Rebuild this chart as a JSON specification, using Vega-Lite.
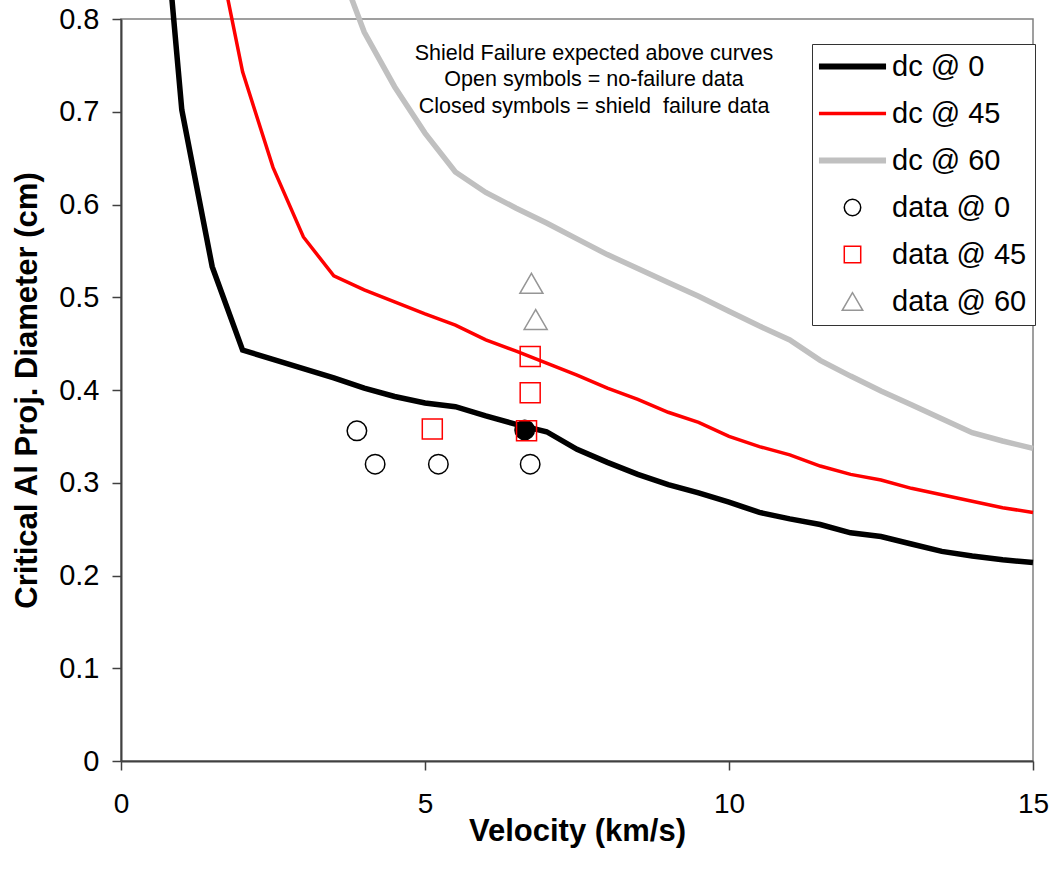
{
  "$schema": "https://vega.github.io/schema/vega-lite/v6.json",
  "width": 912,
  "height": 742,
  "autosize": {"type": "none"},
  "padding": {"left": 121, "top": 19, "right": 27, "bottom": 113},
  "background": "white",
  "config": {
    "view": {"stroke": "#808080", "strokeWidth": 1.5},
    "font": "Liberation Sans",
    "axis": {"grid": false}
  },
  "datasets": {
    "curves": [
      {"series": "dc @ 0", "v": 0.5, "d": 1.07},
      {"series": "dc @ 0", "v": 1, "d": 0.702},
      {"series": "dc @ 0", "v": 1.5, "d": 0.533},
      {"series": "dc @ 0", "v": 2, "d": 0.443},
      {"series": "dc @ 0", "v": 2.5, "d": 0.433},
      {"series": "dc @ 0", "v": 3, "d": 0.423},
      {"series": "dc @ 0", "v": 3.5, "d": 0.413},
      {"series": "dc @ 0", "v": 4, "d": 0.402},
      {"series": "dc @ 0", "v": 4.5, "d": 0.393},
      {"series": "dc @ 0", "v": 5, "d": 0.386},
      {"series": "dc @ 0", "v": 5.5, "d": 0.382},
      {"series": "dc @ 0", "v": 6, "d": 0.372},
      {"series": "dc @ 0", "v": 6.5, "d": 0.363},
      {"series": "dc @ 0", "v": 7, "d": 0.355},
      {"series": "dc @ 0", "v": 7.5, "d": 0.336},
      {"series": "dc @ 0", "v": 8, "d": 0.322},
      {"series": "dc @ 0", "v": 8.5, "d": 0.309},
      {"series": "dc @ 0", "v": 9, "d": 0.298},
      {"series": "dc @ 0", "v": 9.5, "d": 0.289},
      {"series": "dc @ 0", "v": 10, "d": 0.279},
      {"series": "dc @ 0", "v": 10.5, "d": 0.268},
      {"series": "dc @ 0", "v": 11, "d": 0.261},
      {"series": "dc @ 0", "v": 11.5, "d": 0.255},
      {"series": "dc @ 0", "v": 12, "d": 0.246},
      {"series": "dc @ 0", "v": 12.5, "d": 0.242},
      {"series": "dc @ 0", "v": 13, "d": 0.234},
      {"series": "dc @ 0", "v": 13.5, "d": 0.226},
      {"series": "dc @ 0", "v": 14, "d": 0.221},
      {"series": "dc @ 0", "v": 14.5, "d": 0.217},
      {"series": "dc @ 0", "v": 15, "d": 0.214},
      {"series": "dc @ 45", "v": 1.5, "d": 0.905},
      {"series": "dc @ 45", "v": 2, "d": 0.743},
      {"series": "dc @ 45", "v": 2.5, "d": 0.64},
      {"series": "dc @ 45", "v": 3, "d": 0.565},
      {"series": "dc @ 45", "v": 3.5, "d": 0.523},
      {"series": "dc @ 45", "v": 4, "d": 0.508},
      {"series": "dc @ 45", "v": 4.5, "d": 0.495},
      {"series": "dc @ 45", "v": 5, "d": 0.482},
      {"series": "dc @ 45", "v": 5.5, "d": 0.47},
      {"series": "dc @ 45", "v": 6, "d": 0.454},
      {"series": "dc @ 45", "v": 6.5, "d": 0.442},
      {"series": "dc @ 45", "v": 7, "d": 0.429},
      {"series": "dc @ 45", "v": 7.5, "d": 0.416},
      {"series": "dc @ 45", "v": 8, "d": 0.402},
      {"series": "dc @ 45", "v": 8.5, "d": 0.39},
      {"series": "dc @ 45", "v": 9, "d": 0.376},
      {"series": "dc @ 45", "v": 9.5, "d": 0.365},
      {"series": "dc @ 45", "v": 10, "d": 0.35},
      {"series": "dc @ 45", "v": 10.5, "d": 0.339},
      {"series": "dc @ 45", "v": 11, "d": 0.33},
      {"series": "dc @ 45", "v": 11.5, "d": 0.318},
      {"series": "dc @ 45", "v": 12, "d": 0.309},
      {"series": "dc @ 45", "v": 12.5, "d": 0.303},
      {"series": "dc @ 45", "v": 13, "d": 0.294},
      {"series": "dc @ 45", "v": 13.5, "d": 0.287},
      {"series": "dc @ 45", "v": 14, "d": 0.28},
      {"series": "dc @ 45", "v": 14.5, "d": 0.273},
      {"series": "dc @ 45", "v": 15, "d": 0.268},
      {"series": "dc @ 60", "v": 3.5, "d": 0.873},
      {"series": "dc @ 60", "v": 4, "d": 0.786},
      {"series": "dc @ 60", "v": 4.5, "d": 0.727},
      {"series": "dc @ 60", "v": 5, "d": 0.677},
      {"series": "dc @ 60", "v": 5.5, "d": 0.635},
      {"series": "dc @ 60", "v": 6, "d": 0.613},
      {"series": "dc @ 60", "v": 6.5, "d": 0.596},
      {"series": "dc @ 60", "v": 7, "d": 0.58},
      {"series": "dc @ 60", "v": 7.5, "d": 0.563},
      {"series": "dc @ 60", "v": 8, "d": 0.546},
      {"series": "dc @ 60", "v": 8.5, "d": 0.531},
      {"series": "dc @ 60", "v": 9, "d": 0.516},
      {"series": "dc @ 60", "v": 9.5, "d": 0.501},
      {"series": "dc @ 60", "v": 10, "d": 0.485},
      {"series": "dc @ 60", "v": 10.5, "d": 0.469},
      {"series": "dc @ 60", "v": 11, "d": 0.454},
      {"series": "dc @ 60", "v": 11.5, "d": 0.432},
      {"series": "dc @ 60", "v": 12, "d": 0.415},
      {"series": "dc @ 60", "v": 12.5, "d": 0.399},
      {"series": "dc @ 60", "v": 13, "d": 0.384},
      {"series": "dc @ 60", "v": 13.5, "d": 0.369},
      {"series": "dc @ 60", "v": 14, "d": 0.354},
      {"series": "dc @ 60", "v": 14.5, "d": 0.345},
      {"series": "dc @ 60", "v": 15, "d": 0.337}
    ],
    "points": [
      {"series": "data @ 0", "v": 3.88, "d": 0.356, "closed": false},
      {"series": "data @ 0", "v": 4.18, "d": 0.32, "closed": false},
      {"series": "data @ 0", "v": 5.22, "d": 0.32, "closed": false},
      {"series": "data @ 0", "v": 6.73, "d": 0.32, "closed": false},
      {"series": "data @ 0", "v": 6.64, "d": 0.357, "closed": true},
      {"series": "data @ 45", "v": 5.12, "d": 0.358, "closed": false},
      {"series": "data @ 45", "v": 6.73, "d": 0.436, "closed": false},
      {"series": "data @ 45", "v": 6.73, "d": 0.397, "closed": false},
      {"series": "data @ 45", "v": 6.67, "d": 0.356, "closed": false},
      {"series": "data @ 60", "v": 6.75, "d": 0.515, "closed": false},
      {"series": "data @ 60", "v": 6.82, "d": 0.476, "closed": false}
    ],
    "notes": [
      {"v": 7.78, "d": 0.7625, "note": ["Shield Failure expected above curves", "Open symbols = no-failure data", "Closed symbols = shield\u00a0 failure data"]}
    ]
  },
  "layer": [
    {
      "data": {"name": "curves"},
      "mark": {"type": "line", "strokeJoin": "miter", "strokeCap": "butt"},
      "encoding": {
        "x": {
          "field": "v", "type": "quantitative",
          "scale": {"domain": [0, 15], "nice": false, "zero": false},
          "axis": {
            "values": [0, 5, 10, 15],
            "format": "d",
            "title": "Velocity (km/s)",
            "titleFont": "Liberation Sans", "titleFontSize": 31, "titleFontWeight": "bold", "titleColor": "black",
            "titlePadding": -2,
            "labelFont": "Liberation Sans", "labelFontSize": 28, "labelColor": "black", "labelPadding": 20, "labelFlush": false,
            "tickSize": 9, "tickColor": "#404040", "tickWidth": 1.5,
            "domainColor": "#404040", "domainWidth": 2
          }
        },
        "y": {
          "field": "d", "type": "quantitative",
          "scale": {"domain": [0, 0.8], "nice": false, "zero": false},
          "axis": {
            "values": [0, 0.1, 0.2, 0.3, 0.4, 0.5, 0.6, 0.7, 0.8],
            "labelExpr": "datum.value == 0 ? '0' : format(datum.value, '.1f')",
            "title": "Critical Al Proj. Diameter (cm)",
            "titleFont": "Liberation Sans", "titleFontSize": 31, "titleFontWeight": "bold", "titleColor": "black",
            "titlePadding": 15,
            "labelFont": "Liberation Sans", "labelFontSize": 29, "labelColor": "black", "labelPadding": 13,
            "tickSize": 9, "tickColor": "#404040", "tickWidth": 1.5,
            "domainColor": "#404040", "domainWidth": 2
          }
        },
        "color": {
          "field": "series", "type": "nominal",
          "scale": {
            "domain": ["dc @ 0", "dc @ 45", "dc @ 60", "data @ 0", "data @ 45", "data @ 60"],
            "range": ["#000000", "#FF0000", "#C0C0C0", "#000000", "#FF0000", "#969696"]
          },
          "legend": {
            "title": null,
            "orient": "none",
            "legendX": 691,
            "legendY": 25,
            "fillColor": "white",
            "strokeColor": "#333333",
            "padding": 8,
            "labelFont": "Liberation Sans",
            "labelFontSize": 29,
            "labelColor": "black",
            "labelOffset": 25,
            "symbolOffset": 18,
            "symbolSize": 4500,
            "symbolStrokeWidth": 1.5,
            "symbolType": "stroke",
            "rowPadding": 17,
            "encode": {
              "symbols": {
                "update": {
                  "shape": {"signal": "datum.value == 'data @ 0' ? 'circle' : datum.value == 'data @ 45' ? 'square' : datum.value == 'data @ 60' ? 'triangle-up' : 'stroke'"},
                  "size": {"signal": "substring(datum.value, 0, 2) == 'dc' ? 4500 : (datum.value == 'data @ 60' ? 420 : 270)"},
                  "strokeWidth": {"signal": "datum.value == 'dc @ 45' ? 3.5 : (substring(datum.value, 0, 2) == 'dc' ? 6 : 1.5)"},
                  "stroke": {"scale": "color", "field": "value"},
                  "fill": {"value": "transparent"},
                  "opacity": {"value": 1}
                }
              }
            }
          }
        },
        "strokeWidth": {
          "field": "series", "type": "nominal",
          "scale": {"type": "ordinal", "domain": ["dc @ 0", "dc @ 45", "dc @ 60"], "range": [5.5, 3.5, 5.5]},
          "legend": null
        }
      }
    },
    {
      "data": {"name": "points"},
      "mark": {"type": "point", "filled": false, "strokeWidth": 1.5, "opacity": 1},
      "encoding": {
        "x": {"field": "v", "type": "quantitative"},
        "y": {"field": "d", "type": "quantitative"},
        "color": {"field": "series", "type": "nominal"},
        "shape": {
          "field": "series", "type": "nominal",
          "scale": {"domain": ["data @ 0", "data @ 45", "data @ 60"], "range": ["circle", "square", "triangle-up"]},
          "legend": null
        },
        "size": {
          "field": "series", "type": "nominal",
          "scale": {"type": "ordinal", "domain": ["data @ 0", "data @ 45", "data @ 60"], "range": [380, 400, 530]},
          "legend": null
        },
        "fill": {"condition": {"test": "datum.closed", "value": "#000000"}, "value": "transparent"}
      }
    },
    {
      "data": {"name": "notes"},
      "mark": {"type": "text", "font": "Liberation Sans", "fontSize": 21.5, "lineHeight": 26.5, "align": "center", "baseline": "middle", "color": "black"},
      "encoding": {
        "x": {"field": "v", "type": "quantitative"},
        "y": {"field": "d", "type": "quantitative"},
        "text": {"field": "note"}
      }
    }
  ]
}
